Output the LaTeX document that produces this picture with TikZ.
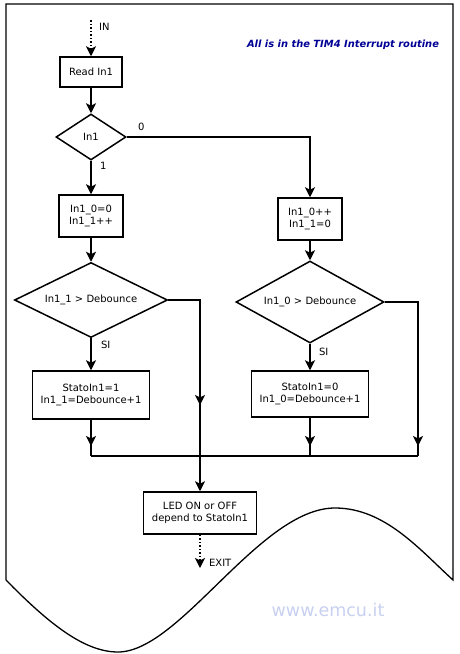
\documentclass[tikz,border=0pt]{standalone}
\usepackage{fontspec}
\setmainfont{DejaVu Sans}
\usetikzlibrary{shapes.geometric,arrows.meta,calc}
\definecolor{titleblue}{RGB}{0,0,150}
\definecolor{webblue}{RGB}{200,208,240}
\tikzset{
	blk/.style={draw,line width=1.5pt,minimum width=#1,inner sep=1pt,align=center,font=\fontsize{10}{11.5}\selectfont},
	dec/.style={draw,diamond,line width=1.5pt,inner sep=0pt,aspect=2,align=center,font=\fontsize{10}{11.5}\selectfont},
	lbl/.style={font=\fontsize{10}{11.5}\selectfont},
	wire/.style={line width=1.5pt},
	arr/.style={line width=1.5pt,-{Stealth[length=10pt,width=10pt,inset=2.5pt]}}
}
\begin{document}
\begin{tikzpicture}[x=1pt,y=-1pt]
			\useasboundingbox (0,0) rectangle (460,654);
			\draw[line width=1.3pt] (6,580) -- (6,4) -- (453,4) -- (453,580)
				.. controls (420,550) and (385,508) .. (335,508)
				.. controls (260,508) and (180,652) .. (118,652)
				.. controls (85,652) and (50,625) .. (6,580);
			\node[font=\fontsize{9.9}{11}\bfseries\itshape,text=titleblue] at (343,45) {All is in the TIM4 Interrupt routine};
			\node[text=webblue,font=\fontsize{17.5}{20}\selectfont] at (328,610) {www.emcu.it};
			\node[blk=62pt,minimum height=30pt] (read) at (91,72) {Read In1};
			\node[dec,minimum width=70pt,minimum height=46pt] (in1) at (91,137) {In1};
			\node[blk=64pt,minimum height=42pt] (set1) at (91,216) {In1\_0=0\\In1\_1++};
			\node[blk=64pt,minimum height=42pt] (set0) at (310,219) {In1\_0++\\In1\_1=0};
			\node[dec,minimum width=153pt,minimum height=75pt] (deb1) at (91,300) {In1\_1 > Debounce};
			\node[dec,minimum width=148pt,minimum height=82pt] (deb0) at (310,302) {In1\_0 > Debounce};
			\node[blk=117pt,minimum height=48pt] (stato1) at (91,395) {StatoIn1=1\\In1\_1=Debounce+1};
			\node[blk=117pt,minimum height=46pt] (stato0) at (310,394) {StatoIn1=0\\In1\_0=Debounce+1};
			\node[blk=113pt,minimum height=42pt] (led) at (200,513) {LED ON or OFF\\depend to StatoIn1};
			\coordinate (in) at (91,20);
			\coordinate (exit) at (200,568);
			\coordinate (jl) at (91,456);
			\coordinate (jm) at (200,456);
			\coordinate (jc) at (310,456);
			\coordinate (jr) at (418,456);
			\draw[arr,dotted] (in) -- (read.north) node[pos=0.2,right=4pt,lbl]{IN};
			\draw[arr] (read) -- (in1);
			\draw[arr] (in1) -- (set1) node[pos=0.15,right=5pt,lbl]{1};
			\draw[arr] (in1.east) -| (set0.north) node[pos=0.04,above=2pt,lbl]{0};
			\draw[arr] (set1) -- (deb1);
			\draw[arr] (set0) -- (deb0);
			\draw[arr] (deb1) -- (stato1) node[pos=0.2,right=6pt,lbl]{SI};
			\draw[arr] (deb0) -- (stato0) node[pos=0.3,right=5pt,lbl]{SI};
			\draw[arr] (deb1.east) -| ($(jm)+(0,-51)$);
			\draw[wire] (deb1.east) -| (jm);
			\draw[arr] (deb0.east) -| ($(jr)+(0,-10)$);
			\draw[wire] (deb0.east) -| (jr);
			\foreach \s/\j in {stato1/jl,stato0/jc}{
				\draw[arr] (\s.south) -- ($(\j)+(0,-10)$);
				\draw[wire] (\s.south) -- (\j);}
			\draw[wire] (jl) -- (jr);
			\draw[arr,line width=2.2pt] (jm) -- (led.north);
			\draw[arr,dotted] (led.south) -- (exit) node[pos=0.85,right=5pt,lbl]{EXIT};
		\end{tikzpicture}
\end{document}
